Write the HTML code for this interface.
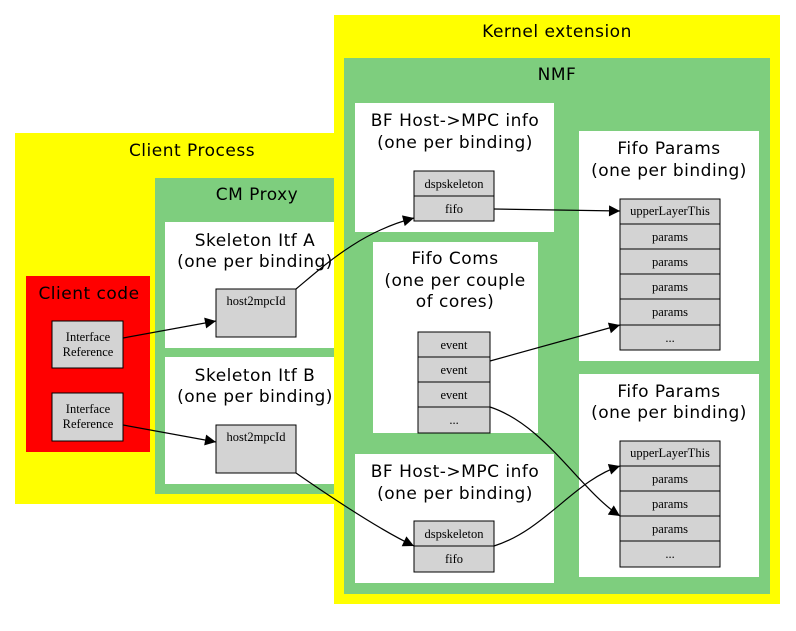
<!DOCTYPE html>
<html><head><style>body{margin:0;background:#fff}svg{display:block}
.t{font-family:"DejaVu Sans",sans-serif;font-size:17px;letter-spacing:0.5px;text-anchor:middle}
.s{font-family:"Liberation Serif",serif;font-size:12.5px;text-anchor:middle}
.c{fill:#d3d3d3;stroke:#000;stroke-width:1}
</style></head><body>
<svg width="796" height="631" viewBox="0 0 796 631" xmlns="http://www.w3.org/2000/svg">
<defs><marker id="a" viewBox="0 0 10 10" refX="10" refY="5" markerWidth="12" markerHeight="11" markerUnits="userSpaceOnUse" orient="auto"><path d="M0,0L10,5L0,10z" fill="#000"/></marker></defs>
<rect x="0" y="0" width="796" height="631" fill="#fff"/>
<!-- Client process -->
<rect x="15" y="133" width="330" height="371" fill="#ff0"/>
<text class="t" x="192" y="156">Client Process</text>
<rect x="155" y="178" width="190" height="316" fill="#7ece7e"/>
<text class="t" x="257" y="200">CM Proxy</text>
<rect x="165" y="222" width="180" height="126" fill="#fff"/>
<text class="t" x="255" y="246">Skeleton Itf A</text>
<text class="t" x="255" y="267">(one per binding)</text>
<rect x="165" y="357" width="180" height="127" fill="#fff"/>
<text class="t" x="255" y="381">Skeleton Itf B</text>
<text class="t" x="255" y="402">(one per binding)</text>
<rect x="26" y="276" width="124" height="176" fill="#f00"/>
<text class="t" x="89" y="299">Client code</text>
<rect class="c" x="52" y="321" width="71" height="47"/>
<text class="s" x="88" y="341">Interface</text><text class="s" x="88" y="356">Reference</text>
<rect class="c" x="52" y="393" width="71" height="48"/>
<text class="s" x="88" y="413">Interface</text><text class="s" x="88" y="428">Reference</text>
<rect class="c" x="216" y="289" width="80" height="48"/><text class="s" x="256" y="305">host2mpcId</text>
<rect class="c" x="216" y="425" width="80" height="48"/><text class="s" x="256" y="441">host2mpcId</text>
<!-- Kernel -->
<rect x="334" y="15" width="446" height="589" fill="#ff0"/>
<text class="t" x="557" y="37">Kernel extension</text>
<rect x="344" y="58" width="426" height="536" fill="#7ece7e"/>
<text class="t" x="557" y="80">NMF</text>
<rect x="355" y="103" width="199" height="129" fill="#fff"/>
<text class="t" x="455" y="126">BF Host-&gt;MPC info</text>
<text class="t" x="455" y="148">(one per binding)</text>
<rect class="c" x="414" y="171" width="80" height="25"/><text class="s" x="454" y="188">dspskeleton</text>
<rect class="c" x="414" y="196" width="80" height="25"/><text class="s" x="454" y="213">fifo</text>
<rect x="373" y="242" width="165" height="191" fill="#fff"/>
<text class="t" x="455" y="264">Fifo Coms</text>
<text class="t" x="455" y="286">(one per couple</text>
<text class="t" x="455" y="307">of cores)</text>
<rect class="c" x="418" y="332" width="72" height="25"/><text class="s" x="454" y="349">event</text>
<rect class="c" x="418" y="357" width="72" height="25"/><text class="s" x="454" y="374">event</text>
<rect class="c" x="418" y="382" width="72" height="25"/><text class="s" x="454" y="399">event</text>
<rect class="c" x="418" y="407" width="72" height="26"/><text class="s" x="454" y="424">...</text>
<rect x="355" y="454" width="199" height="129" fill="#fff"/>
<text class="t" x="455" y="477">BF Host-&gt;MPC info</text>
<text class="t" x="455" y="499">(one per binding)</text>
<rect class="c" x="414" y="521" width="80" height="25"/><text class="s" x="454" y="538">dspskeleton</text>
<rect class="c" x="414" y="546" width="80" height="26"/><text class="s" x="454" y="563">fifo</text>
<rect x="579" y="131" width="180" height="230" fill="#fff"/>
<text class="t" x="669" y="154">Fifo Params</text>
<text class="t" x="669" y="176">(one per binding)</text>
<rect class="c" x="620" y="199" width="100" height="25"/><text class="s" x="670" y="215">upperLayerThis</text>
<rect class="c" x="620" y="224" width="100" height="25"/><text class="s" x="670" y="241">params</text>
<rect class="c" x="620" y="249" width="100" height="25"/><text class="s" x="670" y="266">params</text>
<rect class="c" x="620" y="274" width="100" height="25"/><text class="s" x="670" y="291">params</text>
<rect class="c" x="620" y="299" width="100" height="26"/><text class="s" x="670" y="316">params</text>
<rect class="c" x="620" y="325" width="100" height="25"/><text class="s" x="670" y="342">...</text>
<rect x="579" y="374" width="180" height="203" fill="#fff"/>
<text class="t" x="669" y="397">Fifo Params</text>
<text class="t" x="669" y="418">(one per binding)</text>
<rect class="c" x="620" y="441" width="100" height="25"/><text class="s" x="670" y="457">upperLayerThis</text>
<rect class="c" x="620" y="466" width="100" height="25"/><text class="s" x="670" y="483">params</text>
<rect class="c" x="620" y="491" width="100" height="25"/><text class="s" x="670" y="508">params</text>
<rect class="c" x="620" y="516" width="100" height="25"/><text class="s" x="670" y="533">params</text>
<rect class="c" x="620" y="541" width="100" height="26"/><text class="s" x="670" y="558">...</text>
<!-- edges -->
<g fill="none" stroke="#000" stroke-width="1.2" marker-end="url(#a)">
<path d="M123,338L216,321"/>
<path d="M123,425L216,442"/>
<path d="M296,289C325,265 360,232 414,218"/>
<path d="M296,473C335,500 380,530 414,546"/>
<path d="M494,209L620,211"/>
<path d="M490,361L620,325"/>
<path d="M490,407C545,425 580,490 620,516"/>
<path d="M494,546C545,530 575,480 620,466"/>
</g>
</svg>
</body></html>
